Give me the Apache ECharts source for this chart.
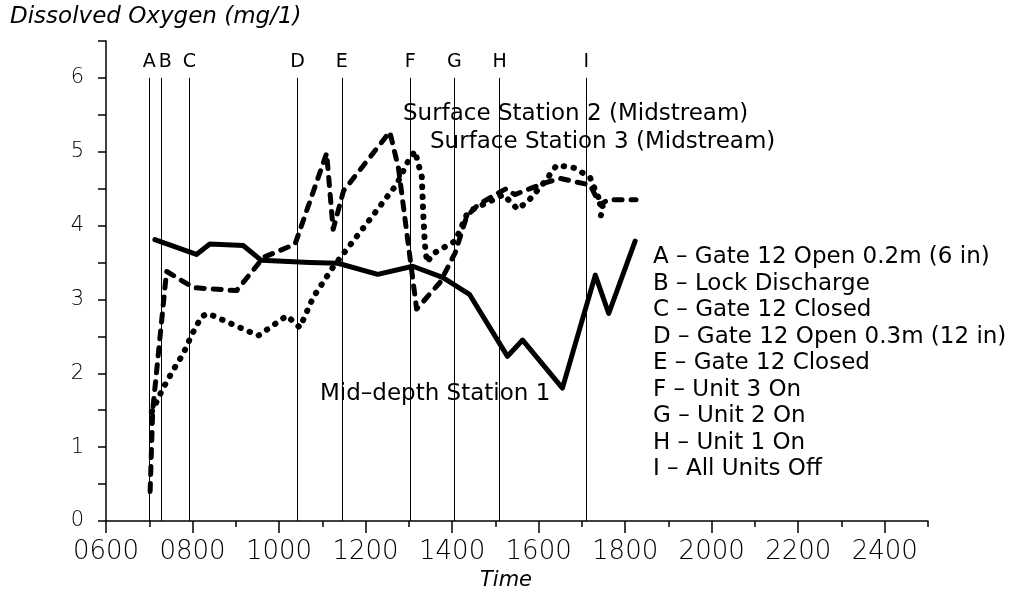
<!DOCTYPE html>
<html>
<head>
<meta charset="utf-8">
<script src="https://cdn.jsdelivr.net/npm/echarts@6/dist/echarts.min.js"></script>
<style>
  html, body { margin: 0; padding: 0; background: #fff; }
  #chart { width: 1017px; height: 595px; }
</style>
</head>
<body>
<div id="chart"></div>
<script>
// Time of day as HHMM-style numbers on a linear axis
const xTicks = [600, 800, 1000, 1200, 1400, 1600, 1800, 2000, 2200, 2400];

// Mid-depth Station 1 (solid)
const midTime = [713, 809, 840, 917, 959, 1071, 1136, 1228, 1309, 1378, 1440, 1528, 1563, 1655, 1731, 1762, 1823];
const midDO   = [3.81, 3.61, 3.75, 3.73, 3.53, 3.50, 3.49, 3.34, 3.45, 3.30, 3.07, 2.23, 2.45, 1.80, 3.33, 2.81, 3.79];

// Surface Station 2 (Midstream) (dashed)
const s2Time = [702, 708, 740, 802, 902, 964, 1037, 1110, 1125, 1149, 1256, 1276, 1318, 1372, 1407, 1434, 1460, 1500, 1525, 1545, 1580, 1615, 1650, 1680, 1719, 1742, 1760, 1825];
const s2DO   = [0.40, 1.50, 3.38, 3.16, 3.12, 3.57, 3.75, 4.98, 3.95, 4.47, 5.27, 4.78, 2.87, 3.23, 3.63, 4.13, 4.28, 4.42, 4.50, 4.42, 4.50, 4.58, 4.64, 4.60, 4.55, 4.28, 4.35, 4.35];

// Surface Station 3 (Midstream) (dotted)
const s3Time = [706, 732, 756, 779, 798, 821, 836, 952, 1018, 1048, 1079, 1125, 1195, 1272, 1299, 1314, 1330, 1333, 1337, 1342, 1356, 1380, 1407, 1434, 1448, 1488, 1518, 1552, 1580, 1615, 1642, 1684, 1719, 1733, 1749, 1744];
const s3DO   = [1.48, 1.80, 2.05, 2.27, 2.52, 2.77, 2.81, 2.51, 2.78, 2.62, 3.03, 3.44, 3.97, 4.56, 4.88, 5.01, 4.66, 4.20, 3.75, 3.50, 3.62, 3.70, 3.79, 4.15, 4.22, 4.33, 4.42, 4.22, 4.36, 4.60, 4.82, 4.78, 4.65, 4.45, 4.25, 4.14];

// Operational events
const eventLetters = ['A', 'B', 'C', 'D', 'E', 'F', 'G', 'H', 'I'];
const eventTimes   = [700, 728, 793, 1043, 1145, 1303, 1405, 1510, 1710];
const eventNotes = [
  'Gate 12 Open 0.2m (6 in)',
  'Lock Discharge',
  'Gate 12 Closed',
  'Gate 12 Open 0.3m (12 in)',
  'Gate 12 Closed',
  'Unit 3 On',
  'Unit 2 On',
  'Unit 1 On',
  'All Units Off'
];

const FONT = '"DejaVu Sans", "Liberation Sans", sans-serif';
const INK = '#000';

const pairs = (xs, ys) => xs.map((x, i) => [x, ys[i]]);
const pad4 = v => String(v).padStart(4, '0');

const chart = echarts.init(document.getElementById('chart'), null, { renderer: 'canvas' });

const eventLines = eventLetters.map((letter, i) => {
  const lbl = { formatter: letter };
  if (letter === 'B') lbl.offset = [4, 0];
  return [
    { name: letter, coord: [eventTimes[i], 0], label: lbl },
    { coord: [eventTimes[i], 6] }
  ];
});

const option = {
  backgroundColor: '#fff',
  animation: false,
  grid: { left: 106, right: 89, top: 41, bottom: 74, containLabel: false },
  xAxis: [
    {
      type: 'value', min: 600, max: 2500, interval: 200,
      axisLine: { show: true, lineStyle: { color: INK, width: 1.5 } },
      axisTick: { show: true, length: 12, lineStyle: { color: INK, width: 1.5 } },
      axisLabel: {
        formatter: v => (xTicks.includes(v) ? pad4(v) : ''),
        color: INK, fontFamily: FONT, fontSize: 26, fontWeight: 200, margin: 18,
        showMaxLabel: false
      },
      splitLine: { show: false }
    },
    {
      type: 'value', min: 600, max: 2500, interval: 100, position: 'bottom',
      axisLine: { show: false },
      axisTick: { show: true, length: 6, lineStyle: { color: INK, width: 1.5 } },
      axisLabel: { show: false },
      splitLine: { show: false }
    }
  ],
  yAxis: {
    type: 'value', min: 0, max: 6.5, interval: 0.5,
    axisLine: { show: true, lineStyle: { color: INK, width: 1.5 } },
    axisTick: { show: true, length: 8, lineStyle: { color: INK, width: 1.5 } },
    axisLabel: {
      formatter: v => (Number.isInteger(v) ? String(v) : ''),
      color: INK, fontFamily: FONT, fontSize: 21, fontWeight: 200, margin: 22
    },
    splitLine: { show: false }
  },
  series: [
    {
      name: 'Mid-depth Station 1', type: 'line', data: pairs(midTime, midDO),
      symbol: 'none', z: 4,
      lineStyle: { color: '#000', width: 5, join: 'round', cap: 'round' },
      markLine: {
        silent: true, symbol: 'none', z: 1,
        lineStyle: { color: INK, width: 1, type: 'solid' },
        label: { show: true, position: 'end', distance: 6, color: INK, fontFamily: FONT, fontSize: 19, fontWeight: 'normal' },
        data: eventLines
      }
    },
    {
      name: 'Surface Station 2 (Midstream)', type: 'line', data: pairs(s2Time, s2DO),
      symbol: 'none', z: 3,
      lineStyle: { color: '#000', width: 5, type: [8, 9], cap: 'round', join: 'round' }
    },
    {
      name: 'Surface Station 3 (Midstream)', type: 'line', data: pairs(s3Time, s3DO),
      symbol: 'none', z: 3,
      lineStyle: { color: '#000', width: 6, type: [0.5, 9.5], cap: 'round', join: 'round' }
    }
  ],
  graphic: [
    { type: 'text', left: 10, top: 6,
      style: { text: 'Dissolved Oxygen (mg/1)', font: 'italic normal 23px ' + FONT, fill: INK } },
    { type: 'text', left: 480, top: 570,
      style: { text: 'Time', font: 'italic normal 21px ' + FONT, fill: INK } },
    { type: 'text', left: 403, top: 103,
      style: { text: 'Surface Station 2 (Midstream)', font: 'normal 23px ' + FONT, fill: INK } },
    { type: 'text', left: 430, top: 131,
      style: { text: 'Surface Station 3 (Midstream)', font: 'normal 23px ' + FONT, fill: INK } },
    { type: 'text', left: 320, top: 383,
      style: { text: 'Mid\u2013depth Station 1', font: 'normal 23px ' + FONT, fill: INK } },
    { type: 'text', left: 653, top: 244,
      style: {
        text: eventLetters.map((l, i) => l + ' \u2013 ' + eventNotes[i]).join('\n'),
        font: 'normal 23px ' + FONT, lineHeight: 26.5, fill: INK
      } }
  ]
};

chart.setOption(option);
</script>
</body>
</html>
